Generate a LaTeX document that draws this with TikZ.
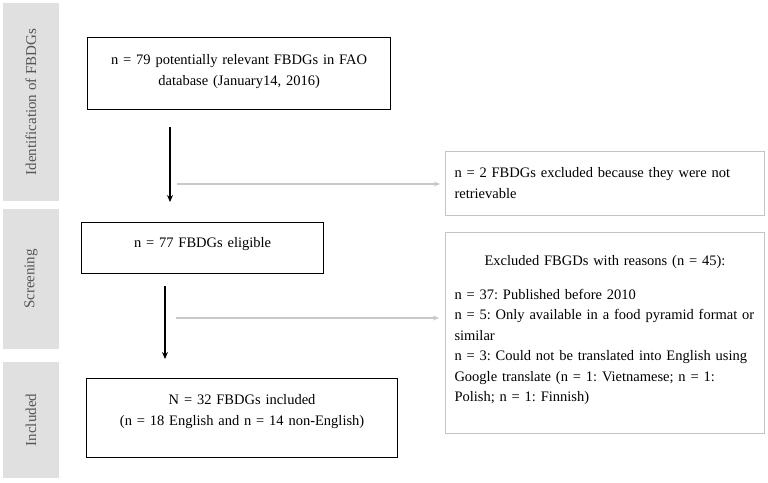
\documentclass[tikz,border=0pt]{standalone}
\usepackage{fontspec}
\setmainfont{Liberation Serif}
\usetikzlibrary{arrows.meta}
\frenchspacing
\hyphenpenalty=10000
\exhyphenpenalty=10000

\definecolor{barfill}{HTML}{E0E0E0}
\definecolor{labelgray}{HTML}{555555}
\definecolor{boxgray}{HTML}{C4C4C4}
\definecolor{arrowgray}{HTML}{C8C8C8}

\begin{document}
\begin{tikzpicture}[x=1pt,y=-1pt,font=\fontsize{14.5}{20.5}\selectfont]
\tikzstyle{phase}=[fill=barfill,text=labelgray,font=\fontsize{15}{17}\selectfont,rotate=90,inner sep=0pt,minimum height=56pt]
\tikzstyle{stagebox}=[draw=black,line width=1.2pt,inner xsep=0pt,inner ysep=0pt,align=center,anchor=north west]
\tikzstyle{notebox}=[draw=boxgray,line width=1pt,inner xsep=9pt,inner ysep=0pt,align=left,anchor=north west,text width=301pt]
\tikzstyle{flow}=[-{Stealth[length=7pt,width=6pt]},line width=1.1pt]
\tikzstyle{sideflow}=[-{Stealth[length=6pt,width=5pt]},draw=arrowgray,line width=1.5pt]

\useasboundingbox (0,0) rectangle (768,482);

% phases on the left
\node[phase,minimum width=198pt] (idbar) at (31,102) {Identification of FBDGs};
\node[phase,minimum width=140pt] (scbar) at (31,279) {Screening};
\node[phase,minimum width=116pt] (inbar) at (31,420) {Included};

% main flow
\node[stagebox,text width=303pt,text height=27pt,text depth=45pt] (found) at (87,37)
  {n = 79 potentially relevant FBDGs in FAO\\ database (January14, 2016)};
\node[stagebox,text width=242pt,text height=25pt,text depth=26pt] (elig) at (81,222)
  {n = 77 FBDGs eligible};
\node[stagebox,text width=311pt,text height=26pt,text depth=53pt] (incl) at (86,378)
  {N = 32 FBDGs included\\ (n = 18 English and n = 14 non-English)};

% exclusions
\node[notebox,text height=26pt,text depth=38pt] (excl1) at (445,151)
  {\mbox{n = 2 FBDGs excluded because they were not}\\ retrievable};
\node[notebox,text height=33pt,text depth=168pt] (excl2) at (445,232)
  {\makebox[301pt]{Excluded FBGDs with reasons (n = 45):}\\[13pt]
   n = 37: Published before 2010\\
   \mbox{n = 5: Only available in a food pyramid format or}\\
   similar\\
   \mbox{n = 3: Could not be translated into English using}\\
   \mbox{Google translate (n = 1: Vietnamese; n = 1:}\\
   Polish; n = 1: Finnish)};

\coordinate (d1) at (170,0);
\coordinate (d2) at (165,0);
\coordinate (s1) at (177,184);
\coordinate (s2) at (176,318);

\draw[flow,shorten <=17pt,shorten >=20pt] (found.south -| d1) -- (elig.north -| d1);
\draw[flow,shorten <=12pt,shorten >=19pt] (elig.south -| d2) -- (incl.north -| d2);
\draw[sideflow,shorten >=5pt] (s1) -- (excl1.west |- s1);
\draw[sideflow,shorten >=6pt] (s2) -- (excl2.west |- s2);
\end{tikzpicture}
\end{document}
